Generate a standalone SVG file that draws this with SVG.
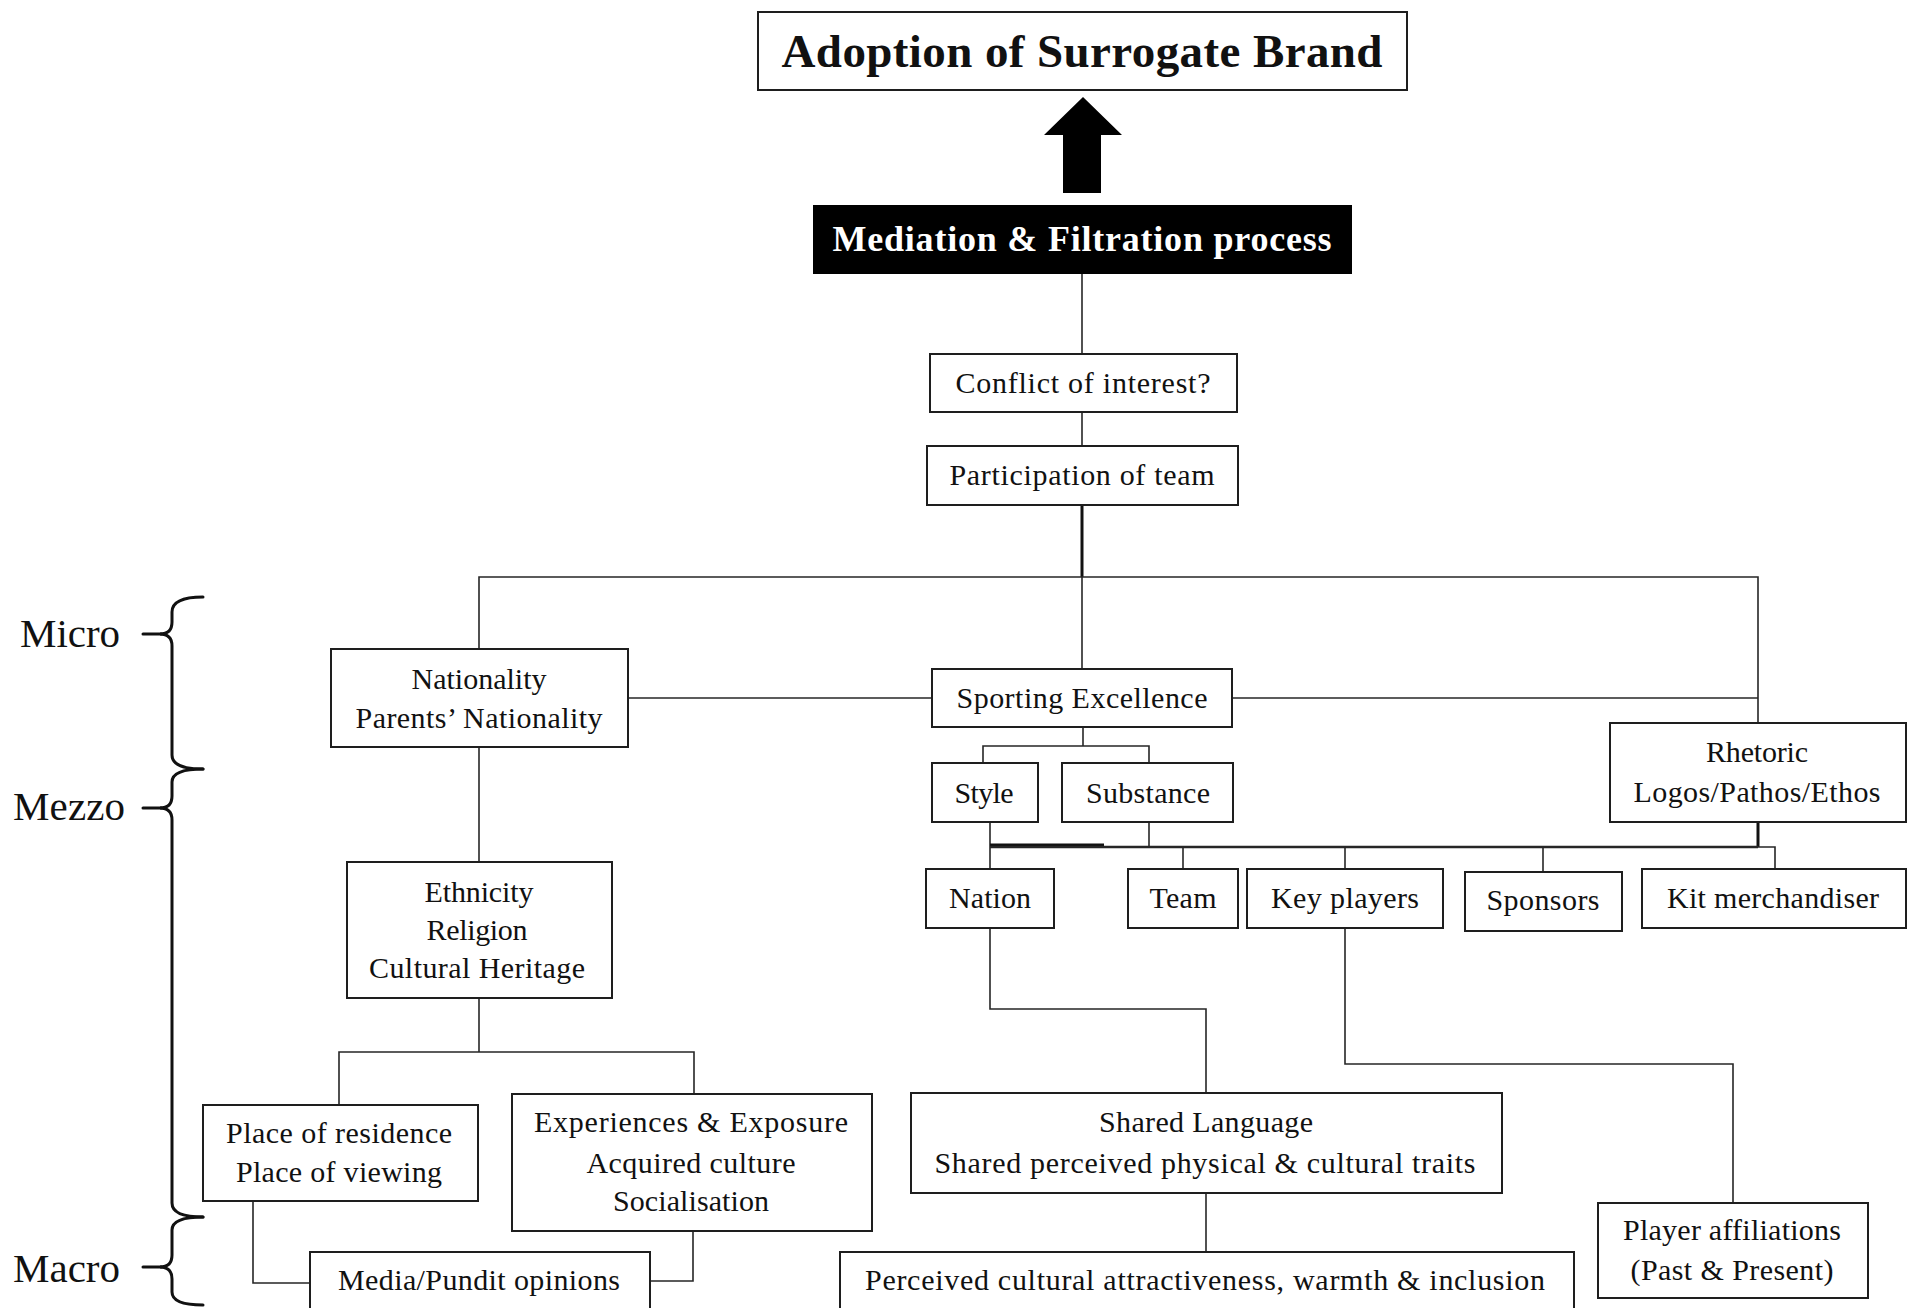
<svg xmlns="http://www.w3.org/2000/svg" width="1907" height="1308" viewBox="0 0 1907 1308">
  <style>
    .box { fill: #ffffff; stroke: #1e1e1e; stroke-width: 2; }
    .dark { fill: #000000; stroke: #000000; stroke-width: 2; }
    .ln { fill: none; stroke: #262626; stroke-width: 1.6; }
    .thick { fill: none; stroke: #111111; stroke-width: 3; }
    .brace { fill: none; stroke: #111111; stroke-width: 3; stroke-linecap: round; }
    .t { font-family: "Liberation Serif", "Times New Roman", serif; font-size: 30px; fill: #111111; text-anchor: middle; }
    .lvl { font-family: "Liberation Serif", "Times New Roman", serif; font-size: 41px; fill: #111111; }
    .title { font-family: "Liberation Serif", "Times New Roman", serif; font-weight: bold; text-anchor: middle; }
  </style>
  <rect width="1907" height="1308" fill="#ffffff"/>

  <!-- level braces on the left -->
  <g id="levels">
    <text class="lvl" x="20" y="647" textLength="100">Micro</text>
    <text class="lvl" x="13" y="820" textLength="112">Mezzo</text>
    <text class="lvl" x="13" y="1282" textLength="107">Macro</text>
    <line class="brace" x1="143" y1="634" x2="162" y2="634"/>
    <line class="brace" x1="143" y1="808" x2="162" y2="808"/>
    <line class="brace" x1="143" y1="1267" x2="162" y2="1267"/>
    <path class="brace" d="M203 597 Q172 597 172 612 L172 622 Q172 634 160 634 Q172 634 172 646 L172 755 Q172 769 203 769"/>
    <path class="brace" d="M203 769 Q172 769 172 782 L172 796 Q172 808 160 808 Q172 808 172 820 L172 1203 Q172 1217 203 1217"/>
    <path class="brace" d="M203 1217 Q172 1217 172 1230 L172 1255 Q172 1267 160 1267 Q172 1267 172 1279 L172 1292 Q172 1305 203 1305"/>
  </g>

  <!-- connectors -->
  <g id="connectors">
    <polygon points="1083,97 1122,135 1101,135 1101,193 1063,193 1063,135 1044,135" fill="#000000"/>
    <line class="ln" x1="1082" y1="273" x2="1082" y2="354"/>
    <line class="ln" x1="1082" y1="412" x2="1082" y2="446"/>
    <line class="thick" x1="1082" y1="505" x2="1082" y2="577"/>
    <polyline class="ln" points="479,649 479,577 1758,577 1758,723"/>
    <line class="ln" x1="1082" y1="577" x2="1082" y2="669"/>
    <line class="ln" x1="628" y1="698" x2="932" y2="698"/>
    <line class="ln" x1="1232" y1="698" x2="1758" y2="698"/>
    <polyline class="ln" points="1083,727 1083,746"/>
    <polyline class="ln" points="983,763 983,746 1149,746 1149,763"/>
    <line class="ln" x1="990" y1="822" x2="990" y2="869"/>
    <line class="ln" x1="1149" y1="822" x2="1149" y2="847"/>
    <line class="thick" x1="1758" y1="822" x2="1758" y2="847"/>
    <line class="thick" x1="990" y1="845" x2="1104" y2="845"/>
    <line class="ln" x1="990" y1="847" x2="1758" y2="847" style="stroke-width:2.4"/>
    <polyline class="ln" points="1758,847 1775,847 1775,869"/>
    <line class="ln" x1="1183" y1="847" x2="1183" y2="869"/>
    <line class="ln" x1="1345" y1="847" x2="1345" y2="869"/>
    <line class="ln" x1="1543" y1="847" x2="1543" y2="872"/>
    <polyline class="ln" points="990,928 990,1009 1206,1009 1206,1093"/>
    <polyline class="ln" points="1345,928 1345,1064 1733,1064 1733,1203"/>
    <line class="ln" x1="1206" y1="1193" x2="1206" y2="1252"/>
    <line class="ln" x1="479" y1="747" x2="479" y2="862"/>
    <line class="ln" x1="479" y1="998" x2="479" y2="1052"/>
    <polyline class="ln" points="339,1105 339,1052 694,1052 694,1094"/>
    <polyline class="ln" points="253,1201 253,1283 310,1283"/>
    <polyline class="ln" points="693,1231 693,1281 650,1281"/>
  </g>

  <g id="adoption">
    <rect class="box" x="758" y="12" width="649" height="78"/>
    <text class="title" x="1082" y="67" font-size="47" fill="#111111" textLength="601">Adoption of Surrogate Brand</text>
  </g>

  <g id="mediation">
    <rect class="dark" x="814" y="206" width="537" height="67"/>
    <text class="title" x="1082" y="251" font-size="36" fill="#ffffff" textLength="499">Mediation &amp; Filtration process</text>
  </g>

  <g id="conflict">
    <rect class="box" x="930" y="354" width="307" height="58"/>
    <text class="t" x="1083" y="393" textLength="255">Conflict  of  interest?</text>
  </g>

  <g id="participation">
    <rect class="box" x="927" y="446" width="311" height="59"/>
    <text class="t" x="1082" y="485" textLength="265">Participation  of team</text>
  </g>

  <g id="nationality">
    <rect class="box" x="331" y="649" width="297" height="98"/>
    <text class="t" x="479" y="689" textLength="135">Nationality</text>
    <text class="t" x="479" y="728" textLength="247">Parents’ Nationality</text>
  </g>

  <g id="sporting">
    <rect class="box" x="932" y="669" width="300" height="58"/>
    <text class="t" x="1082" y="708" textLength="251">Sporting  Excellence</text>
  </g>

  <g id="style">
    <rect class="box" x="932" y="763" width="106" height="59"/>
    <text class="t" x="984" y="803" textLength="59">Style</text>
  </g>

  <g id="substance">
    <rect class="box" x="1062" y="763" width="171" height="59"/>
    <text class="t" x="1148" y="803" textLength="124">Substance</text>
  </g>

  <g id="rhetoric">
    <rect class="box" x="1610" y="723" width="296" height="99"/>
    <text class="t" x="1757" y="762" textLength="102">Rhetoric</text>
    <text class="t" x="1757" y="802" textLength="247">Logos/Pathos/Ethos</text>
  </g>

  <g id="nation">
    <rect class="box" x="926" y="869" width="128" height="59"/>
    <text class="t" x="990" y="908" textLength="82">Nation</text>
  </g>

  <g id="team">
    <rect class="box" x="1128" y="869" width="110" height="59"/>
    <text class="t" x="1183" y="908" textLength="67">Team</text>
  </g>

  <g id="key-players">
    <rect class="box" x="1247" y="869" width="196" height="59"/>
    <text class="t" x="1345" y="908" textLength="148">Key players</text>
  </g>

  <g id="sponsors">
    <rect class="box" x="1465" y="872" width="157" height="59"/>
    <text class="t" x="1543" y="910" textLength="113">Sponsors</text>
  </g>

  <g id="kit">
    <rect class="box" x="1642" y="869" width="264" height="59"/>
    <text class="t" x="1773" y="908" textLength="212">Kit merchandiser</text>
  </g>

  <g id="ethnicity">
    <rect class="box" x="347" y="862" width="265" height="136"/>
    <text class="t" x="479" y="902" textLength="109">Ethnicity</text>
    <text class="t" x="477" y="940" textLength="101">Religion</text>
    <text class="t" x="477" y="978" textLength="216">Cultural  Heritage</text>
  </g>

  <g id="place">
    <rect class="box" x="203" y="1105" width="275" height="96"/>
    <text class="t" x="339" y="1143" textLength="226">Place  of residence</text>
    <text class="t" x="339" y="1182" textLength="206">Place  of viewing</text>
  </g>

  <g id="experiences">
    <rect class="box" x="512" y="1094" width="360" height="137"/>
    <text class="t" x="691" y="1132" textLength="314">Experiences  &amp; Exposure</text>
    <text class="t" x="691" y="1173" textLength="209">Acquired  culture</text>
    <text class="t" x="691" y="1211" textLength="156">Socialisation</text>
  </g>

  <g id="shared">
    <rect class="box" x="911" y="1093" width="591" height="100"/>
    <text class="t" x="1206" y="1132" textLength="214">Shared Language</text>
    <text class="t" x="1205" y="1173" textLength="541">Shared perceived  physical  &amp; cultural  traits</text>
  </g>

  <g id="player-affiliations">
    <rect class="box" x="1598" y="1203" width="270" height="95"/>
    <text class="t" x="1732" y="1240" textLength="218">Player  affiliations</text>
    <text class="t" x="1732" y="1280" textLength="203">(Past &amp; Present)</text>
  </g>

  <g id="media">
    <rect class="box" x="310" y="1252" width="340" height="70"/>
    <text class="t" x="479" y="1290" textLength="282">Media/Pundit  opinions</text>
  </g>

  <g id="perceived">
    <rect class="box" x="840" y="1252" width="734" height="70"/>
    <text class="t" x="1205" y="1290" textLength="680">Perceived  cultural  attractiveness,  warmth  &amp; inclusion</text>
  </g>
</svg>
